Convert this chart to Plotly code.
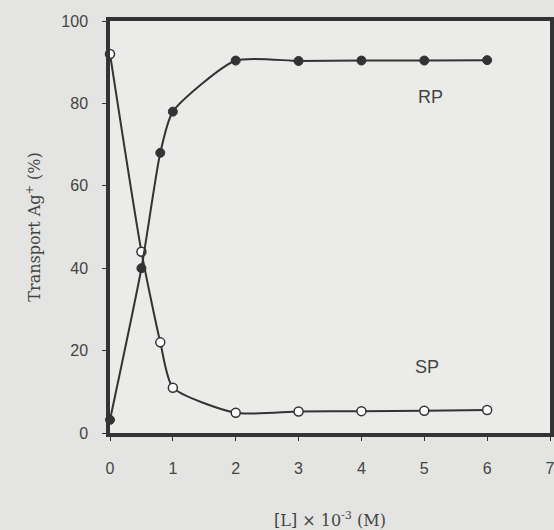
import plotly.graph_objects as go

conc = [0, 0.5, 0.8, 1, 2, 3, 4, 5, 6]
rp = [3.2, 40, 68, 78, 90.4, 90.3, 90.4, 90.4, 90.5]
sp = [92, 44, 22, 11, 4.9, 5.2, 5.3, 5.4, 5.6]
xticks = [0, 1, 2, 3, 4, 5, 6, 7]
yticks = [0, 20, 40, 60, 80, 100]
labels = [("RP", 5.1, 81.5), ("SP", 5.05, 16)]

ink = "#333333"
txtc = "#444444"
paper = "#e4e4e2"
fig = go.Figure()
fig.add_trace(go.Scatter(
    x=conc, y=sp, mode="lines+markers",
    line=dict(color=ink, width=2, shape="spline", smoothing=0.6),
    marker=dict(symbol="circle", size=9, color="white", line=dict(color=ink, width=1.5)),
    showlegend=False, cliponaxis=False))
fig.add_trace(go.Scatter(
    x=conc, y=rp, mode="lines+markers",
    line=dict(color=ink, width=2, shape="spline", smoothing=0.6),
    marker=dict(symbol="circle", size=9, color=ink, line=dict(color=ink, width=1)),
    showlegend=False, cliponaxis=False))

for txt, x, y in labels:
    fig.add_annotation(x=x, y=y, text=txt, showarrow=False,
                       font=dict(family="Liberation Sans, Arial", size=18, color=txtc))

fig.update_layout(
    width=554, height=530,
    margin=dict(l=110, r=4, t=21, b=97),
    paper_bgcolor=paper,
    plot_bgcolor="#ebebe9",
    font=dict(family="Liberation Sans, Arial", size=16, color=txtc),
)
fig.update_xaxes(
    range=[0, 7], tickvals=xticks, showgrid=False, zeroline=False, automargin=False,
    showline=True, linecolor=ink, linewidth=3.5, mirror=True,
    ticks="outside", ticklen=4, tickcolor=ink, tickwidth=1,
    ticklabelstandoff=14, ticklabeloverflow="allow",
    title=dict(text="[L] × 10<sup>-3</sup> (M)", standoff=40,
               font=dict(family="DejaVu Serif", size=16, color=txtc)))
fig.update_yaxes(
    range=[0, 100], tickvals=yticks, showgrid=False, zeroline=False, automargin=False,
    showline=True, linecolor=ink, linewidth=3.5, mirror=True,
    ticks="outside", ticklen=4, tickcolor=ink, tickwidth=1,
    ticklabelstandoff=11, ticklabeloverflow="allow",
    title=dict(text="Transport Ag<sup>+</sup> (%)", standoff=18,
               font=dict(family="DejaVu Serif", size=16, color=txtc)))

fig.write_html("out.html", config={"displayModeBar": False},
               post_script="document.body.style.margin='0';document.body.style.background='%s';" % paper)
